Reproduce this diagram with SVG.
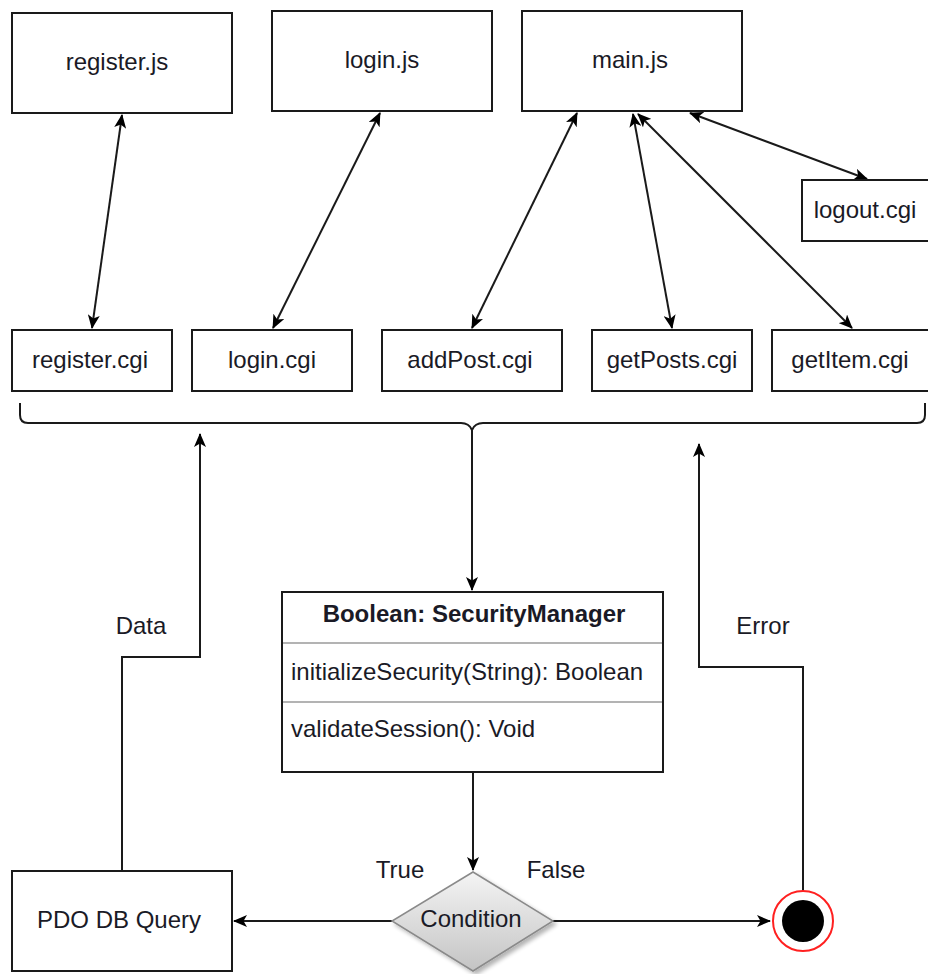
<svg xmlns="http://www.w3.org/2000/svg" width="928" height="974" viewBox="0 0 928 974">
  <style>
    .box { fill: #ffffff; stroke: #1a1a1a; stroke-width: 2; }
    .lbl { font-family: "Liberation Sans", Arial, sans-serif; font-size: 24px; fill: #1a1a26; }
    .mid { text-anchor: middle; }
    .bold { font-weight: bold; }
    .wire { fill: none; stroke: #1a1a1a; stroke-width: 2; }
    .sep { stroke: #9a9a9a; stroke-width: 1.5; }
  </style>
  <defs>
    <marker id="head" viewBox="0 0 14 12" refX="13" refY="6" markerWidth="14" markerHeight="12" markerUnits="userSpaceOnUse" orient="auto-start-reverse">
      <path d="M0,0 L14,6 L0,12 L3.5,6 z" fill="#000000"/>
    </marker>
    <linearGradient id="diamondFill" x1="0" y1="0" x2="0" y2="1">
      <stop offset="0" stop-color="#f4f4f4"/>
      <stop offset="1" stop-color="#c4c4c4"/>
    </linearGradient>
    <filter id="drop" x="-20%" y="-20%" width="140%" height="140%">
      <feGaussianBlur in="SourceAlpha" stdDeviation="2"/>
      <feOffset dx="3" dy="3" result="b"/>
      <feComponentTransfer><feFuncA type="linear" slope="0.3"/></feComponentTransfer>
      <feMerge><feMergeNode/><feMergeNode in="SourceGraphic"/></feMerge>
    </filter>
  </defs>

  <rect width="928" height="974" fill="#ffffff"/>

  <!-- connectors -->
  <g id="connectors">
    <line class="wire" x1="122" y1="115" x2="92" y2="328" marker-start="url(#head)" marker-end="url(#head)"/>
    <line class="wire" x1="380" y1="113" x2="273" y2="328" marker-start="url(#head)" marker-end="url(#head)"/>
    <line class="wire" x1="577" y1="113" x2="472" y2="328" marker-start="url(#head)" marker-end="url(#head)"/>
    <line class="wire" x1="633" y1="114" x2="672" y2="328" marker-start="url(#head)" marker-end="url(#head)"/>
    <line class="wire" x1="638" y1="114" x2="852" y2="328" marker-start="url(#head)" marker-end="url(#head)"/>
    <line class="wire" x1="690" y1="113" x2="867" y2="179" marker-start="url(#head)" marker-end="url(#head)"/>

    <!-- bracket gathering the cgi row -->
    <path class="wire" d="M20,403 L20,415 Q20,423 28,423 L461,423 Q469,423 472,430 Q475,423 483,423 L917,423 Q925,423 925,415 L925,403"/>
    <line class="wire" x1="472" y1="430" x2="472" y2="590" marker-end="url(#head)"/>

    <line class="wire" x1="473" y1="772" x2="473" y2="870" marker-end="url(#head)"/>
    <line class="wire" x1="392" y1="921" x2="234" y2="921" marker-end="url(#head)"/>
    <line class="wire" x1="553" y1="921" x2="770" y2="921" marker-end="url(#head)"/>

    <polyline class="wire" points="122,871 122,657 200,657 200,434" marker-end="url(#head)"/>
    <polyline class="wire" points="803,891 803,667 699,667 699,444" marker-end="url(#head)"/>
  </g>

  <!-- script files -->
  <g id="register-js">
    <rect class="box" x="12" y="13" width="220" height="100"/>
    <text class="lbl mid" x="117" y="70">register.js</text>
  </g>
  <g id="login-js">
    <rect class="box" x="272" y="11" width="220" height="100"/>
    <text class="lbl mid" x="382" y="68">login.js</text>
  </g>
  <g id="main-js">
    <rect class="box" x="522" y="11" width="220" height="100"/>
    <text class="lbl mid" x="630" y="68">main.js</text>
  </g>
  <g id="logout-cgi">
    <rect class="box" x="802" y="180" width="140" height="61"/>
    <text class="lbl mid" x="865" y="218">logout.cgi</text>
  </g>

  <!-- cgi endpoints -->
  <g id="register-cgi">
    <rect class="box" x="12" y="330" width="160" height="61"/>
    <text class="lbl mid" x="90" y="368">register.cgi</text>
  </g>
  <g id="login-cgi">
    <rect class="box" x="192" y="330" width="160" height="61"/>
    <text class="lbl mid" x="272" y="368">login.cgi</text>
  </g>
  <g id="addpost-cgi">
    <rect class="box" x="382" y="330" width="180" height="61"/>
    <text class="lbl mid" x="470" y="368">addPost.cgi</text>
  </g>
  <g id="getposts-cgi">
    <rect class="box" x="592" y="330" width="160" height="61"/>
    <text class="lbl mid" x="672" y="368">getPosts.cgi</text>
  </g>
  <g id="getitem-cgi">
    <rect class="box" x="772" y="330" width="170" height="61"/>
    <text class="lbl mid" x="850" y="368">getItem.cgi</text>
  </g>

  <!-- security manager class -->
  <g id="security-manager">
    <rect class="box" x="282" y="592" width="381" height="180"/>
    <line class="sep" x1="283" y1="643" x2="662" y2="643"/>
    <line class="sep" x1="283" y1="702" x2="662" y2="702"/>
    <text class="lbl mid bold" x="474" y="622" font-size="21.5">Boolean: SecurityManager</text>
    <text class="lbl" x="291" y="680">initializeSecurity(String): Boolean</text>
    <text class="lbl" x="291" y="737">validateSession(): Void</text>
  </g>

  <!-- decision -->
  <g id="condition">
    <polygon points="473,872 553,921 473,971 392,921" fill="url(#diamondFill)" stroke="#8a8a8a" stroke-width="1.5" filter="url(#drop)"/>
    <text class="lbl mid" x="471" y="927">Condition</text>
  </g>

  <g id="pdo-query">
    <rect class="box" x="12" y="871" width="220" height="100"/>
    <text class="lbl mid" x="119" y="928">PDO DB Query</text>
  </g>

  <g id="error-end">
    <circle cx="803" cy="921" r="30" fill="#ffffff" stroke="#ff2020" stroke-width="2"/>
    <circle cx="803" cy="921" r="21" fill="#000000"/>
  </g>

  <!-- edge labels -->
  <g id="edge-labels">
    <text class="lbl mid" x="141" y="634">Data</text>
    <text class="lbl mid" x="763" y="634">Error</text>
    <text class="lbl mid" x="400" y="878">True</text>
    <text class="lbl mid" x="556" y="878">False</text>
  </g>
</svg>
